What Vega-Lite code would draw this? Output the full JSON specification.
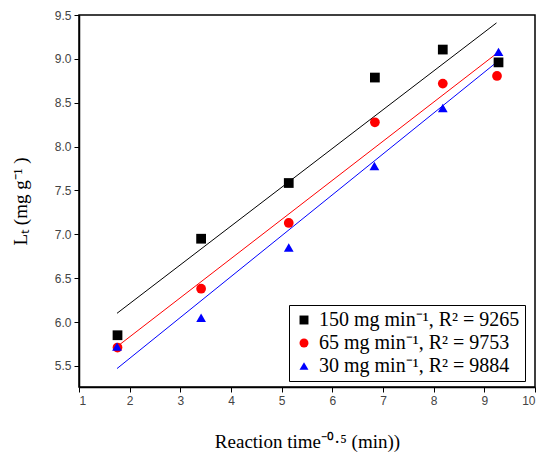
{
  "$schema": "https://vega.github.io/schema/vega-lite/v6.json",
  "width": 456,
  "height": 372,
  "autosize": "none",
  "padding": {"left": 79, "top": 15, "right": 15, "bottom": 69},
  "background": "white",
  "config": {
    "view": {"stroke": "black", "strokeWidth": 1.5},
    "axis": {
      "grid": false,
      "domainColor": "black",
      "domainWidth": 1.5,
      "tickColor": "black",
      "labelFont": "Liberation Sans",
      "labelFontSize": 12,
      "labelColor": "#444444",
      "titleFont": "Liberation Serif",
      "titleFontSize": 19,
      "titleFontWeight": "normal",
      "titleColor": "black"
    }
  },
  "datasets": {
    "pts": [
      {"series": "150", "x": 1.76, "y": 5.85},
      {"series": "150", "x": 3.41, "y": 6.95},
      {"series": "150", "x": 5.14, "y": 7.585},
      {"series": "150", "x": 6.84, "y": 8.787},
      {"series": "150", "x": 8.18, "y": 9.106},
      {"series": "150", "x": 9.28, "y": 8.96},
      {"series": "65", "x": 1.76, "y": 5.71},
      {"series": "65", "x": 3.41, "y": 6.38},
      {"series": "65", "x": 5.14, "y": 7.13},
      {"series": "65", "x": 6.84, "y": 8.277},
      {"series": "65", "x": 8.18, "y": 8.718},
      {"series": "65", "x": 9.25, "y": 8.805},
      {"series": "30", "x": 1.75, "y": 5.72},
      {"series": "30", "x": 3.41, "y": 6.05},
      {"series": "30", "x": 5.14, "y": 6.85},
      {"series": "30", "x": 6.83, "y": 7.78},
      {"series": "30", "x": 8.18, "y": 8.44},
      {"series": "30", "x": 9.28, "y": 9.08}
    ],
    "fits": [
      {"series": "150", "x": 1.75, "y": 6.10},
      {"series": "150", "x": 9.24, "y": 9.41},
      {"series": "65", "x": 1.75, "y": 5.72},
      {"series": "65", "x": 9.24, "y": 9.06},
      {"series": "30", "x": 1.75, "y": 5.47},
      {"series": "30", "x": 9.24, "y": 8.96}
    ]
  },
  "layer": [
    {
      "data": {"name": "fits"},
      "transform": [{"filter": "datum.series === '150'"}],
      "mark": {"type": "line", "strokeWidth": 1, "color": "black"},
      "encoding": {
        "x": {"field": "x", "type": "quantitative"},
        "y": {"field": "y", "type": "quantitative"}
      }
    },
    {
      "data": {"name": "fits"},
      "transform": [{"filter": "datum.series === '65'"}],
      "mark": {"type": "line", "strokeWidth": 1, "color": "red"},
      "encoding": {
        "x": {"field": "x", "type": "quantitative"},
        "y": {"field": "y", "type": "quantitative"}
      }
    },
    {
      "data": {"name": "fits"},
      "transform": [{"filter": "datum.series === '30'"}],
      "mark": {"type": "line", "strokeWidth": 1, "color": "blue"},
      "encoding": {
        "x": {"field": "x", "type": "quantitative"},
        "y": {"field": "y", "type": "quantitative"}
      }
    },
    {
      "data": {"name": "pts"},
      "mark": {"type": "point", "filled": true, "opacity": 1, "size": 95},
      "encoding": {
        "x": {
          "field": "x",
          "type": "quantitative",
          "scale": {"domain": [1, 10], "nice": false, "zero": false},
          "axis": {
            "title": "Reaction time⁻⁰·⁵ (min))",
            "values": [1, 1.5, 2, 2.5, 3, 3.5, 4, 4.5, 5, 5.5, 6, 6.5, 7, 7.5, 8, 8.5, 9, 9.5, 10],
            "labelExpr": "datum.value % 1 === 0 ? format(datum.value, 'd') : ''",
            "tickSize": {"condition": {"test": "datum.value % 1 !== 0", "value": 3}, "value": 5},
            "titlePadding": 26,
            "labelPadding": 3
          }
        },
        "y": {
          "field": "y",
          "type": "quantitative",
          "scale": {"domain": [5.26, 9.5], "nice": false, "zero": false},
          "axis": {
            "title": "Lₜ (mg g⁻¹ )",
            "values": [5.5, 5.75, 6, 6.25, 6.5, 6.75, 7, 7.25, 7.5, 7.75, 8, 8.25, 8.5, 8.75, 9, 9.25, 9.5],
            "labelExpr": "(datum.value * 2) % 1 === 0 ? format(datum.value, '.1f') : ''",
            "tickSize": {"condition": {"test": "(datum.value * 2) % 1 !== 0", "value": 3}, "value": 5},
            "titlePadding": 24,
            "labelPadding": 3
          }
        },
        "color": {
          "field": "series",
          "type": "nominal",
          "scale": {"domain": ["150", "65", "30"], "range": ["black", "red", "blue"]},
          "legend": {
            "title": null,
            "orient": "none",
            "legendX": 210,
            "legendY": 290,
            "strokeColor": "black",
            "fillColor": "white",
            "padding": 5,
            "labelFont": "Liberation Serif",
            "labelFontSize": 20,
            "labelColor": "black",
            "labelOffset": 5,
            "symbolSize": 80,
            "rowPadding": 3,
            "labelLimit": 400,
            "labelExpr": "datum.value === '150' ? '150 mg min⁻¹, R² = 9265' : datum.value === '65' ? '65 mg min⁻¹, R² = 9753' : '30 mg min⁻¹, R² = 9884'"
          }
        },
        "shape": {
          "field": "series",
          "type": "nominal",
          "scale": {"domain": ["150", "65", "30"], "range": ["square", "circle", "triangle-up"]}
        }
      }
    }
  ]
}
